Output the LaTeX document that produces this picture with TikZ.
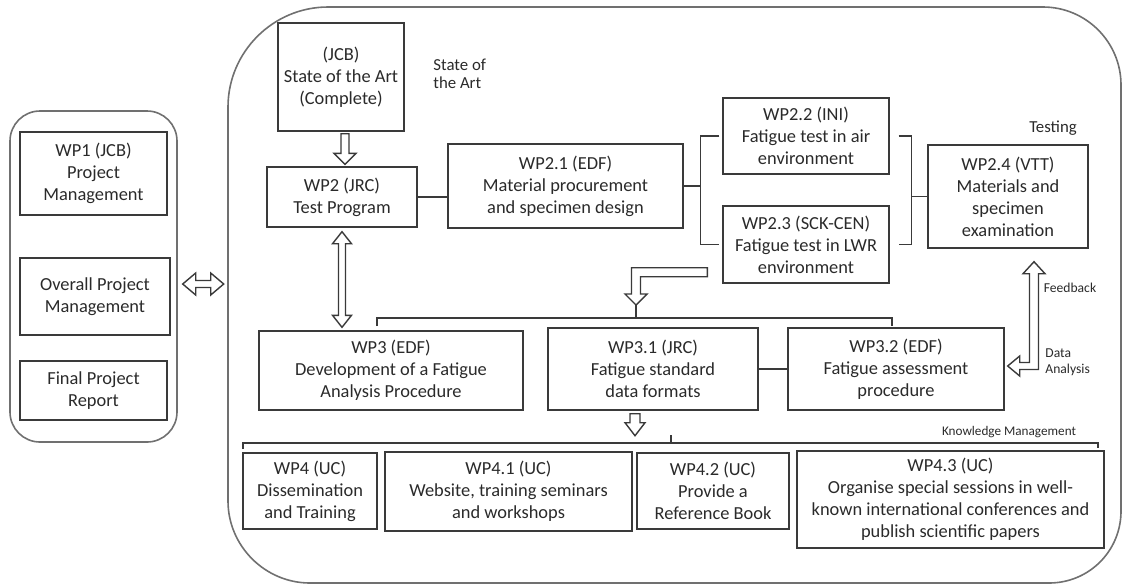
\documentclass[tikz,border=0pt]{standalone}
\usepackage{fontspec}
\setmainfont{Carlito}
\usetikzlibrary{calc}
\definecolor{linec}{HTML}{3A3A3A}
\definecolor{framec}{HTML}{707070}
\definecolor{txtc}{HTML}{2A2A2A}
% hollow down arrow: #1 top, #2 tip, #3 shaft half, #4 head half, #5 head length
\newcommand\hdown[5]{\draw[hol] ($(#1)+(-#3,0)$) -- ($(#2)+(-#3,-#5)$) -- ($(#2)+(-#4,-#5)$) -- (#2) -- ($(#2)+(#4,-#5)$) -- ($(#2)+(#3,-#5)$) -- ($(#1)+(#3,0)$) -- cycle;}
% hollow vertical double arrow: #1 top tip, #2 bottom tip
\newcommand\hvdouble[5]{\draw[hol] (#1) -- ($(#1)+(#4,#5)$) -- ($(#1)+(#3,#5)$) -- ($(#2)+(#3,-#5)$) -- ($(#2)+(#4,-#5)$) -- (#2) -- ($(#2)+(-#4,-#5)$) -- ($(#2)+(-#3,-#5)$) -- ($(#1)+(-#3,#5)$) -- ($(#1)+(-#4,#5)$) -- cycle;}
% hollow horizontal double arrow: #1 left tip, #2 right tip
\newcommand\hhdouble[5]{\draw[hol] (#1) -- ($(#1)+(#5,-#4)$) -- ($(#1)+(#5,-#3)$) -- ($(#2)+(-#5,-#3)$) -- ($(#2)+(-#5,-#4)$) -- (#2) -- ($(#2)+(-#5,#4)$) -- ($(#2)+(-#5,#3)$) -- ($(#1)+(#5,#3)$) -- ($(#1)+(#5,#4)$) -- cycle;}
\begin{document}
\begin{tikzpicture}[x=0.5pt,y=-0.5pt,
  sz/.style 2 args={minimum width=#1*0.5pt, minimum height=#2*0.5pt},
  box/.style={draw=linec, line width=0.7pt, align=center, inner sep=0pt, text=txtc, font=\fontsize{9.2}{11}\selectfont},
  lbl/.style={inner sep=0pt, text=txtc, align=left},
  conn/.style={draw=linec, line width=0.7pt},
  hol/.style={draw=linec, line width=0.7pt, fill=white, line join=miter},
  frame/.style={draw=framec, line width=0.8pt}]

\useasboundingbox (0,0) rectangle (1123,585);

% frames
\draw[frame, rounded corners=15pt] (10,111) rectangle (177,442);
\draw[frame] (228,107) .. controls (228,52) and (273,7) .. (328,7) -- (1043,7)
  .. controls (1086,7) and (1121,42) .. (1121,85) -- (1121,511)
  .. controls (1121,551) and (1089,583) .. (1049,583) -- (310,583)
  .. controls (265,583) and (228,546) .. (228,501) -- cycle;

% left column
\node[box, sz={147}{83}] (wp1) at (93.5,173.5) {WP1 (JCB)\\Project\\Management};
\node[box, sz={150}{77}] (opm) at (95,296.5) {Overall Project\\Management};
\node[box, sz={147}{59}] (fpr) at (93.5,390.5) {Final Project\\Report};

% top
\node[box, sz={126}{108}] (soa) at (341,77) {(JCB)\\State of the Art\\(Complete)};
\node[lbl, font=\fontsize{8.4}{9}\selectfont, anchor=west] (soal) at (433,74) {State of\\the Art};
\node[box, sz={150}{60}] (wp2) at (342,197) {WP2 (JRC)\\Test Program};
\node[box, sz={235}{84}] (wp21) at (565.5,186) {WP2.1 (EDF)\\Material procurement\\and specimen design};
\node[box, sz={166}{76}] (wp22) at (806,136) {WP2.2 (INI)\\Fatigue test in air\\environment};
\node[box, sz={166}{77}] (wp23) at (806,244.5) {WP2.3 (SCK-CEN)\\Fatigue test in LWR\\environment};
\node[box, sz={160}{103}] (wp24) at (1008,196.5) {WP2.4 (VTT)\\Materials and\\specimen\\examination};
\node[lbl, font=\fontsize{8.4}{10}\selectfont] (test) at (1053,128) {Testing};

% middle
\node[box, sz={264}{79}] (wp3) at (391,370.5) {WP3 (EDF)\\Development of a Fatigue\\Analysis Procedure};
\node[box, sz={210}{82}] (wp31) at (653,369) {WP3.1 (JRC)\\Fatigue standard\\data formats};
\node[box, sz={216}{82}] (wp32) at (896,369) {WP3.2 (EDF)\\Fatigue assessment\\procedure};
\node[lbl, font=\fontsize{6.8}{8}\selectfont] (fb) at (1070,288) {Feedback};
\node[lbl, font=\fontsize{6.8}{8}\selectfont, anchor=west] (da) at (1045,362) {Data\\Analysis};

% bottom
\node[box, sz={134}{76}] (wp4) at (310,491) {WP4 (UC)\\Dissemination\\and Training};
\node[box, sz={247}{79}] (wp41) at (508.5,491.5) {WP4.1 (UC)\\Website, training seminars\\and workshops};
\node[box, sz={152}{76}] (wp42) at (713,491) {WP4.2 (UC)\\Provide a\\Reference Book};
\node[box, sz={307}{97}] (wp43) at (950.5,499.5) {WP4.3 (UC)\\Organise special sessions in well-\\known international conferences and\\publish scientific papers};
\node[lbl, font=\fontsize{6.6}{8}\selectfont] (km) at (1009,432) {Knowledge Management};

% connectors WP2 group
\draw[conn] (wp2.east) -- (wp2.east -| wp21.west);
\coordinate (j1) at ($(wp21.east)+(17,0)$);
\draw[conn] (wp21.east) -- (j1);
\draw[conn] ($(wp22.west)+(-3,0)$) -| (j1) |- ($(wp23.west)+(-3,0)$);
\coordinate (j2) at ($(wp24.west)+(-16,0)$);
\draw[conn] ($(wp22.east)+(9,0)$) -| (j2) |- ($(wp23.east)+(9,0)$);
\draw[conn] (j2) -- (wp24.west);

% State of the art -> WP2
\coordinate (a1s) at ($(soa.south)+(4,2)$);
\coordinate (a1t) at ($(wp2.north)+(3,-2)$);
\hdown{a1s}{a1s |- a1t}{4}{11}{11}

% WP2 <-> WP3
\coordinate (d1) at ($(wp2.south)+(0,4)$);
\coordinate (d2) at (d1 |- wp3.north);
\hvdouble{d1}{$(d2)+(0,-3)$}{3.5}{9.5}{12}

% left frame <-> main frame
\coordinate (la1) at ($(opm.east)+(12,-12.5)$);
\coordinate (la2) at ($(la1)+(41,0)$);
\hhdouble{la1}{la2}{3.5}{11}{13}

% WP3 bracket
\coordinate (b3l) at (377,318);
\coordinate (b3r) at (892,318);
\draw[conn] ($(b3l)+(0,8)$) -- (b3l) -- (b3r) -- ($(b3r)+(0,8)$);

% bent arrow WP2.3 -> WP3 bracket
\coordinate (ba0) at ($(wp23.south west)+(-15,-11.5)$);
\coordinate (ba1) at (636,305);
\draw[hol] ($(ba0)+(0,-4.5)$) -- ($(ba1 |- ba0)+(-4.5,-4.5)$) -- ($(ba1)+(-4.5,-11)$) -- ($(ba1)+(-11,-11)$) -- (ba1) -- ($(ba1)+(11,-11)$) -- ($(ba1)+(4.5,-11)$) -- ($(ba1 |- ba0)+(4.5,4.5)$) -- ($(ba0)+(0,4.5)$) -- cycle;
\draw[conn] (ba1) -- (ba1 |- b3l);

% WP3.1 - WP3.2
\draw[conn] (wp31.east) -- (wp32.west);

% feedback / data analysis arrow
\coordinate (ft) at ($(wp24.south)+(26,13)$);
\coordinate (fl) at ($(wp32.east)+(3,-3)$);
\draw[hol] (ft) -- ($(ft)+(11,12)$) -- ($(ft)+(4.5,12)$) -- ($(ft |- fl)+(4.5,3.5)$) -- ($(fl)+(12,3.5)$) -- ($(fl)+(12,10)$) -- (fl) -- ($(fl)+(12,-10)$) -- ($(fl)+(12,-3.5)$) -- ($(ft |- fl)+(-4.5,-3.5)$) -- ($(ft)+(-4.5,12)$) -- ($(ft)+(-11,12)$) -- cycle;

% WP3.1 -> WP4 bracket
\coordinate (a3s) at ($(wp31.south)+(-18,3)$);
\coordinate (a3t) at ($(a3s)+(0,22)$);
\hdown{a3s}{a3t}{5}{10}{13}

% WP4 bracket
\coordinate (b4l) at (243,443);
\coordinate (b4r) at (1098,443);
\coordinate (b4m) at (671,443);
\draw[conn] ($(b4l)+(0,6)$) -- (b4l) -- (b4r) -- ($(b4r)+(0,5)$);
\draw[conn] (b4m) -- ($(b4m)+(0,-8)$);
\end{tikzpicture}
\end{document}
